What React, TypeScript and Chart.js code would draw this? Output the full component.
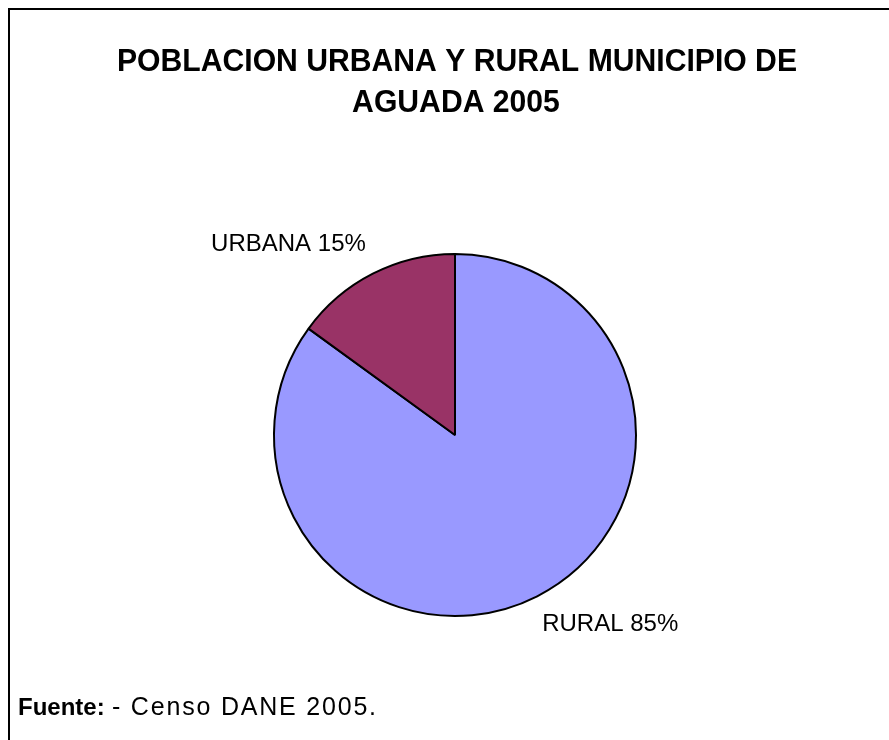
import React, { useEffect, useRef } from "react";
import { Chart, registerables } from "chart.js";

Chart.register(...registerables);

const categories = ["RURAL", "URBANA"];
const values = [85, 15];
const colors = ["#9999FF", "#993366"];
const titleLines = ["POBLACION URBANA Y RURAL MUNICIPIO DE", "AGUADA 2005"];
const sourceLabel = "Fuente:";
const sourceText = "- Censo DANE 2005.";

const FONT = "'Liberation Sans', Arial, sans-serif";

function drawScaled(ctx: any, text: string, cx: number, cy: number, sx: number) {
  ctx.save();
  ctx.translate(cx, cy);
  ctx.scale(sx, 1);
  ctx.fillText(text, 0, 0);
  ctx.restore();
}

const decorPlugin = {
  id: "decor",
  afterDraw(chart: any) {
    const ctx = chart.ctx;
    ctx.save();
    // frame
    ctx.strokeStyle = "#000";
    ctx.lineWidth = 2;
    ctx.beginPath();
    ctx.moveTo(9, 740);
    ctx.lineTo(9, 9);
    ctx.lineTo(889, 9);
    ctx.stroke();
    // title
    ctx.fillStyle = "#000";
    ctx.font = `bold 32px ${FONT}`;
    ctx.textAlign = "center";
    ctx.textBaseline = "middle";
    const w0 = ctx.measureText(titleLines[0]).width;
    const sx = 680 / w0;
    drawScaled(ctx, titleLines[0], 457, 62, sx);
    drawScaled(ctx, titleLines[1], 456, 103, sx);
    // labels
    const meta = chart.getDatasetMeta(0);
    const total = values.reduce((a, b) => a + b, 0);
    ctx.font = `24px ${FONT}`;
    ctx.textBaseline = "middle";
    meta.data.forEach((arc: any, i: number) => {
      const p = arc.getProps(["x", "y", "startAngle", "endAngle", "outerRadius"], true);
      const mid = (p.startAngle + p.endAngle) / 2;
      const r = p.outerRadius;
      const c = Math.cos(mid);
      const s = Math.sin(mid);
      const ax = p.x + c * r;
      const ay = p.y + s * r;
      const pct = Math.round((values[i] / total) * 100);
      const txt = `${categories[i]} ${pct}%`;
      ctx.textAlign = c < 0 ? "right" : "left";
      ctx.fillText(txt, ax + (c < 0 ? -7 : 5), ay + (s < 0 ? -29 : 28));
    });
    // source
    ctx.textAlign = "left";
    ctx.textBaseline = "middle";
    ctx.font = `bold 24px ${FONT}`;
    ctx.fillText(sourceLabel, 18, 708);
    ctx.font = `25px ${FONT}`;
    (ctx as any).letterSpacing = "1.8px";
    ctx.fillText(sourceText, 112, 708);
    (ctx as any).letterSpacing = "0px";
    ctx.restore();
  },
};

export default function App() {
  const ref = useRef<HTMLCanvasElement>(null);
  useEffect(() => {
    const chart = new Chart(ref.current!, {
      type: "pie",
      data: {
        labels: categories,
        datasets: [
          {
            data: values,
            backgroundColor: colors,
            borderColor: "#000",
            borderWidth: 2,
          },
        ],
      },
      options: {
        animation: false,
        responsive: false,
        layout: { padding: { left: 273, right: 252, top: 253, bottom: 123 } },
        plugins: {
          legend: { display: false },
          tooltip: { enabled: false },
          title: { display: false },
        },
      },
      plugins: [decorPlugin],
    });
    return () => chart.destroy();
  }, []);
  return (
    <div style={{ position: "absolute", left: 0, top: 0, width: 889, height: 740, background: "#fff" }}>
      <canvas ref={ref} width={889} height={740} style={{ display: "block" }} />
    </div>
  );
}
